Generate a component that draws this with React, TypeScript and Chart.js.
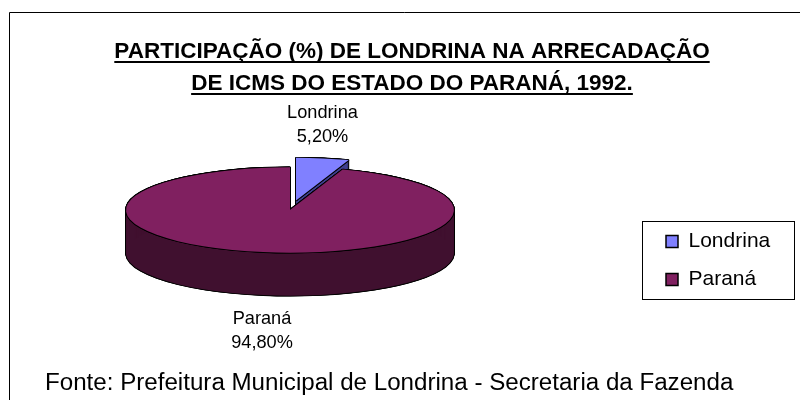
import React, { useEffect, useRef } from "react";
import { Chart, registerables } from "chart.js";

Chart.register(...registerables);

const categories = ["Londrina", "Paraná"];
const values = [5.2, 94.8];
const topColors = ["#8080ff", "#802060"];
const wallColors = ["#404090", "#40102f"];
const titleLines = ["PARTICIPAÇÃO (%) DE LONDRINA NA ARRECADAÇÃO", "DE ICMS DO ESTADO DO PARANÁ, 1992."];
const sourceText = "Fonte: Prefeitura Municipal de Londrina - Secretaria da Fazenda";
const pctLabels = ["5,20%", "94,80%"];
const labelAnchors = [
  { x: 322.5, y: 118 },
  { x: 262, y: 324 },
];

const FONT = "'Liberation Sans', Arial, sans-serif";
const TITLE_SIZE = 22.5;
const CX = 290;
const CY = 210;
const RADIUS = 164;
const SQUASH = 0.26;
const DEPTH = 43;
const EXPLODE = 37;

function drawArc(ctx: any, el: any, color: string, dx: number, dy: number, shift: number) {
  const saved = el.options;
  el.options = { ...saved, backgroundColor: color, borderWidth: 0, offset: 0 };
  const mid = (el.startAngle + el.endAngle) / 2;
  ctx.save();
  ctx.translate(CX + dx + Math.cos(mid) * shift, CY + dy + Math.sin(mid) * shift * SQUASH);
  ctx.scale(1, SQUASH);
  ctx.translate(-el.x, -el.y);
  el.draw(ctx);
  ctx.restore();
  el.options = saved;
}

const OUTLINE: number[][] = [
  [-0.9, 0], [0.9, 0], [0, -0.9], [0, 0.9],
  [-0.7, -0.7], [0.7, -0.7], [-0.7, 0.7], [0.7, 0.7],
];

const pie3d = {
  id: "pie3d",
  afterLayout(chart: any) {
    const title = chart.titleBlock;
    title.left = 24;
    title.right = 800;
    const sub = chart.boxes.find((b: any) => b !== title && b !== chart.legend && b.options && b.options.text);
    if (sub) {
      sub.left = 45;
      sub.right = 800;
      sub.top = 369;
      sub.bottom = 399;
    }
    const lg = chart.legend;
    lg.left = 649;
    lg.right = 794;
    lg.top = 214;
    lg.bottom = 400;
  },
  beforeDatasetsDraw(chart: any) {
    const ctx = chart.ctx;
    const arcs = chart.getDatasetMeta(0).data;
    // Exploded slice first, the large slice is painted over its wall.
    [0, 1].forEach((i) => {
      const el = arcs[i];
      const shift = i === 0 ? EXPLODE : 0;
      for (let d = 0; d <= DEPTH; d++) {
        OUTLINE.forEach(([ox, oy]) => drawArc(ctx, el, "#000000", ox, oy + d, shift));
      }
      for (let d = 1; d <= DEPTH; d++) drawArc(ctx, el, wallColors[i], 0, d, shift);
      OUTLINE.forEach(([ox, oy]) => drawArc(ctx, el, "#000000", ox, oy, shift));
      drawArc(ctx, el, topColors[i], 0, 0, shift);
    });
    return false;
  },
  afterDraw(chart: any) {
    const ctx = chart.ctx;
    ctx.save();
    // outer frame (left and top edges are all that fall in the picture)
    ctx.strokeStyle = "#000";
    ctx.lineWidth = 1;
    ctx.beginPath();
    ctx.moveTo(9.5, 400);
    ctx.lineTo(9.5, 12.5);
    ctx.lineTo(800, 12.5);
    ctx.stroke();
    // legend frame
    ctx.lineWidth = 1;
    ctx.strokeRect(642.5, 221.5, 152, 78);
    // title underlines
    ctx.font = `bold ${TITLE_SIZE}px ${FONT}`;
    titleLines.forEach((t, i) => {
      const w = ctx.measureText(t).width;
      const y = 62 + i * 32;
      ctx.lineWidth = 2;
      ctx.beginPath();
      ctx.moveTo(412 - w / 2, y);
      ctx.lineTo(412 + w / 2, y);
      ctx.stroke();
    });
    // slice labels
    ctx.fillStyle = "#000";
    ctx.font = `18.2px ${FONT}`;
    ctx.textAlign = "center";
    categories.forEach((c, i) => {
      ctx.fillText(c, labelAnchors[i].x, labelAnchors[i].y);
      ctx.fillText(pctLabels[i], labelAnchors[i].x, labelAnchors[i].y + 24);
    });
    ctx.restore();
  },
};

export default function App() {
  const ref = useRef<HTMLCanvasElement>(null);
  useEffect(() => {
    document.body.style.margin = "0";
    const chart = new Chart(ref.current as HTMLCanvasElement, {
      type: "pie",
      data: {
        labels: categories,
        datasets: [
          {
            data: values,
            backgroundColor: topColors,
            borderColor: "#000000",
            borderWidth: 1.5,
          },
        ],
      },
      plugins: [pie3d],
      options: {
        responsive: false,
        animation: false,
        radius: RADIUS,
        layout: { padding: 0 },
        plugins: {
          tooltip: { enabled: false },
          title: {
            display: true,
            text: titleLines,
            color: "#000",
            font: { family: FONT, size: TITLE_SIZE, weight: "bold", lineHeight: 32 / TITLE_SIZE },
            padding: { top: 36, bottom: 0 },
          },
          subtitle: {
            display: true,
            position: "bottom",
            align: "start",
            text: sourceText,
            color: "#000",
            font: { family: FONT, size: 24.15, weight: "normal", lineHeight: 1.2 },
            padding: 0,
          },
          legend: {
            display: true,
            position: "right",
            align: "start",
            labels: {
              color: "#000",
              font: { family: FONT, size: 21 },
              boxWidth: 12,
              boxHeight: 12,
              padding: 17,
            },
          },
        },
      } as any,
    });
    return () => chart.destroy();
  }, []);
  return <canvas ref={ref} width={800} height={400} style={{ display: "block" }} />;
}
